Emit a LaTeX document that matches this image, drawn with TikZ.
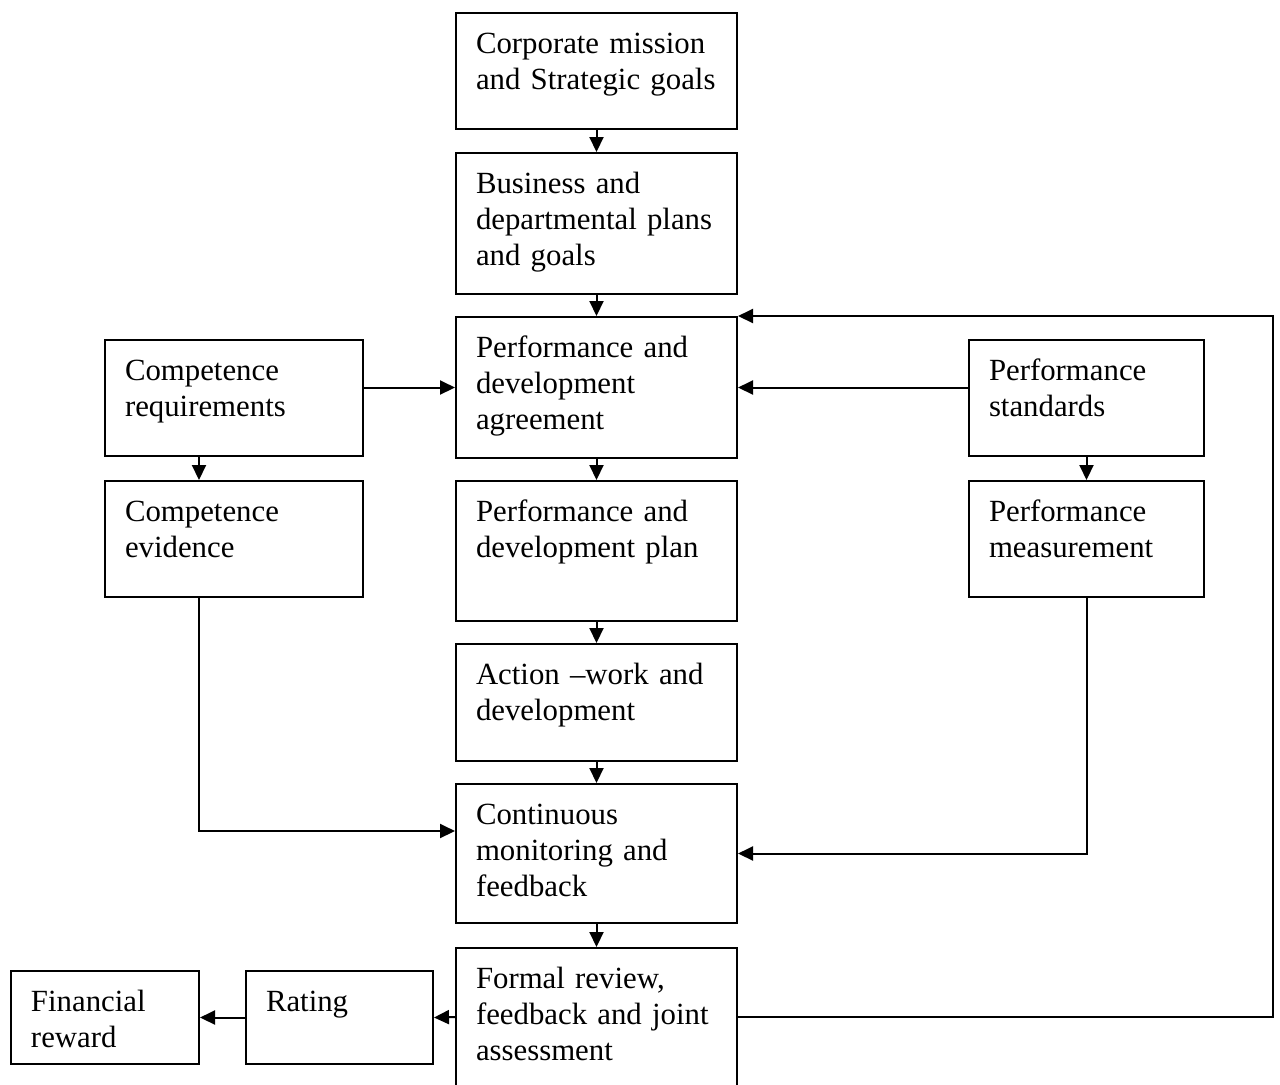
\documentclass[tikz,border=0pt]{standalone}
\usepackage{fontspec}
\setmainfont{Liberation Serif}
\usetikzlibrary{arrows.meta}

\tikzset{
  blk/.style 2 args={draw, line width=1pt, anchor=north west, align=left,
    inner xsep=10pt, inner ysep=10pt, text height=10pt,
    text width=#1, text depth=#2, font=\fontsize{15.4}{18}\selectfont},
  link/.style={->, line width=1pt}
}

\begin{document}
\begin{tikzpicture}[x=0.5pt, y=-0.5pt, >={Triangle[length=7.5pt, width=7pt]}]

        \useasboundingbox (0,0) rectangle (1280,1084);
        \clip (0,0) rectangle (1280,1084);

        % Central column
        \node[blk={120.5pt}{28pt}] (mission) at (455,12) {Corporate mission\\and Strategic goals};
        \node[blk={120.5pt}{40.5pt}] (plans) at (455,152) {Business and\\departmental plans\\and goals};
        \node[blk={120.5pt}{40.5pt}] (agree) at (455,316) {Performance and\\development\\agreement};
        \node[blk={120.5pt}{40pt}] (plan) at (455,480) {Performance and\\development plan};
        \node[blk={120.5pt}{28.5pt}] (action) at (455,643) {Action --work and\\development};
        \node[blk={120.5pt}{39.5pt}] (monitor) at (455,783) {Continuous\\monitoring and\\feedback};
        \node[blk={120.5pt}{39pt}] (review) at (455,947) {Formal review,\\feedback and joint\\assessment};

        % Left column
        \node[blk={109pt}{28pt}] (compreq) at (104,339) {Competence\\requirements};
        \node[blk={109pt}{28pt}] (compev) at (104,480) {Competence\\evidence};

        % Right column
        \node[blk={97.5pt}{28pt}] (stand) at (968,339) {Performance\\standards};
        \node[blk={97.5pt}{28pt}] (meas) at (968,480) {Performance\\measurement};

        % Bottom row
        \node[blk={73.5pt}{16.5pt}] (rating) at (245,970) {Rating};
        \node[blk={74pt}{16.5pt}] (reward) at (10,970) {Financial\\reward};

        % Main flow
        \draw[link] (mission) -- (plans);
        \draw[link] (plans) -- (agree);
        \draw[link] (agree) -- (plan);
        \draw[link] (plan) -- (action);
        \draw[link] (action) -- (monitor);
        \draw[link] (monitor) -- (review);

        % Side inputs
        \draw[link] (agree.west -| compreq.east) -- (agree.west);
        \draw[link] (agree.east -| stand.west) -- (agree.east);
        \draw[link] ([xshift=-17.5pt]compreq.south) -- ([xshift=-17.5pt]compev.north);
        \draw[link] (stand) -- (meas);
        \draw[link] ([xshift=-17.5pt]compev.south) |- ([yshift=11.25pt]monitor.west);
        \draw[link] (meas.south) |- (monitor.east);

        % Outcomes and feedback loop
        \draw[link] (review.west) -- (rating.east);
        \draw[link] (rating.west) -- (reward.east);
        \coordinate (loop) at (1273,316);
        \draw[link] (review.east) -| (loop) -- (agree.north east);
        \end{tikzpicture}
\end{document}
